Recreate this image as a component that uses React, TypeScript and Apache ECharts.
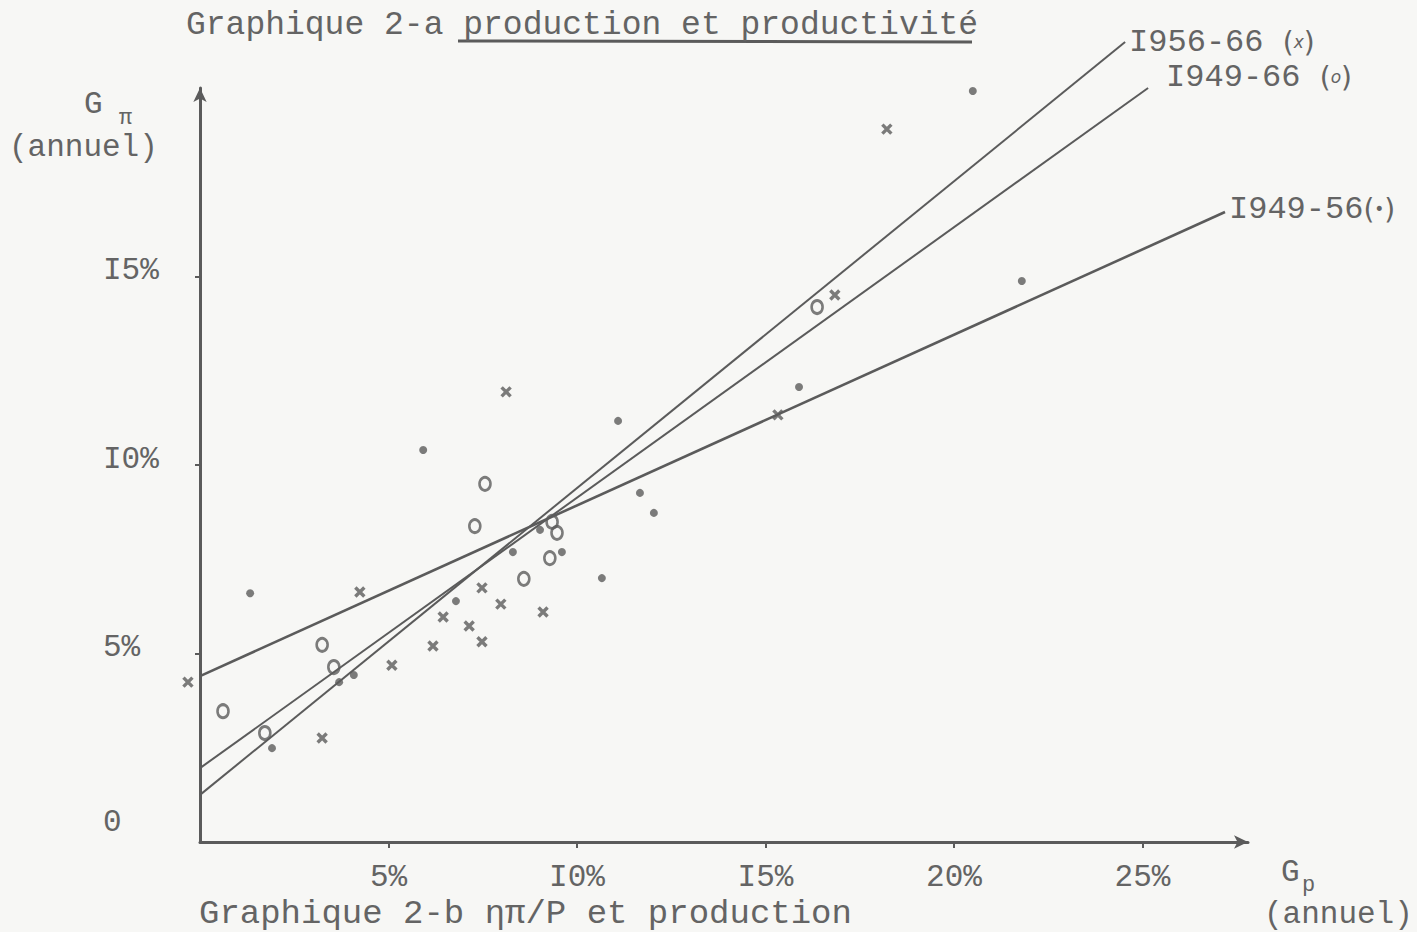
import React, { useEffect, useRef } from 'react';
import * as echarts from 'echarts';

const FONT = '"Liberation Mono", "DejaVu Sans Mono", monospace';
const INK = '#5b5b5b';
const TEXT = '#646464';
const PAPER = '#f7f7f5';

// Axis ticks and labels
const xTickValues = [5, 10, 15, 20, 25];
const xTickLabels = ['5%', 'I0%', 'I5%', '20%', '25%'];
const yTickValues = [0, 5, 10, 15];
const yTickLabels = ['0', '5%', 'I0%', 'I5%'];

// Observations: [G_p %, G_pi %]
const dots1949_56 = [
  [1.33, 6.6], [5.92, 10.4], [11.09, 11.17], [20.5, 19.92], [21.8, 14.88],
  [15.89, 12.07], [11.67, 9.26], [12.04, 8.73], [10.66, 7.0], [9.6, 7.69],
  [9.02, 8.28], [8.3, 7.69], [6.79, 6.39], [3.69, 4.24], [4.08, 4.43], [1.91, 2.49],
];
const circles1949_66 = [
  [0.61, 3.47], [1.72, 2.89], [3.24, 5.23], [3.55, 4.64], [7.29, 8.38],
  [7.56, 9.5], [8.59, 6.98], [9.28, 7.53], [9.47, 8.2], [9.34, 8.49], [16.37, 14.19],
];
const crosses1956_66 = [
  [-0.32, 4.24], [4.24, 6.63], [3.24, 2.76], [5.09, 4.69], [6.18, 5.2],
  [6.45, 5.97], [7.14, 5.73], [7.48, 5.31], [7.48, 6.74], [7.98, 6.31],
  [9.1, 6.1], [8.12, 11.94], [18.22, 18.91], [16.84, 14.51], [15.33, 11.33],
];

// Fitted lines (start, end)
const line1956_66 = [[0, 1.25], [24.54, 21.22]];
const line1949_66 = [[0, 1.96], [25.15, 20.0]];
const line1949_56 = [[0, 4.4], [27.19, 16.71]];

const seriesNames = ['I956-66', 'I949-66', 'I949-56'];
const seriesGaps = [' ', ' ', ''];
const seriesMarks = ['x', 'o', '•'];

const labelRich = {
  a: { fontFamily: FONT, fontSize: 32, color: TEXT },
  p: { fontFamily: '"DejaVu Sans", sans-serif', fontSize: 28, color: TEXT },
  m: { fontFamily: '"DejaVu Sans", sans-serif', fontSize: 17, fontStyle: 'italic', color: TEXT },
};

export default function App() {
  const ref = useRef<HTMLDivElement>(null);
  useEffect(() => {
    const chart = echarts.init(ref.current!, null, { renderer: 'svg' });
    const endLabel = (i: number, offset: number[]) => ({
      show: true,
      formatter: () => `{a|${seriesNames[i]}${seriesGaps[i]}}{p|(}{m|${seriesMarks[i]}}{p|)}`,
      rich: labelRich,
      offset,
      distance: 4,
    });
    chart.setOption({
      animation: false,
      backgroundColor: PAPER,
      title: {
        text: 'Graphique 2-a production et productivité',
        left: 181,
        top: 4,
        textStyle: { fontFamily: FONT, fontSize: 33, fontWeight: 'normal', color: TEXT },
      },
      grid: { left: 200, top: 88, right: 169, bottom: 90 },
      xAxis: {
        type: 'value',
        min: 0,
        max: 27.8,
        interval: 5,
        splitLine: { show: false },
        axisLine: {
          show: true,
          symbol: ['none', 'arrow'],
          symbolSize: [10, 14],
          lineStyle: { color: INK, width: 3 },
        },
        axisTick: { show: true, customValues: xTickValues, length: 6, lineStyle: { color: INK, width: 2 } },
        axisLabel: {
          customValues: xTickValues,
          formatter: (v: number) => xTickLabels[xTickValues.indexOf(v)] ?? '',
          fontFamily: FONT,
          fontSize: 31,
          color: TEXT,
          margin: 20,
        },
      },
      yAxis: {
        type: 'value',
        min: 0,
        max: 20,
        interval: 5,
        splitLine: { show: false },
        axisLine: {
          show: true,
          symbol: ['none', 'arrow'],
          symbolSize: [10, 14],
          lineStyle: { color: INK, width: 3 },
        },
        axisTick: { show: true, customValues: [5, 10, 15], length: 5, lineStyle: { color: INK, width: 2 } },
        axisLabel: {
          customValues: yTickValues,
          formatter: (v: number) => {
            const t = yTickLabels[yTickValues.indexOf(v)] ?? '';
            return v === 0 ? `{z|${t}}` : `{n|${t}}`;
          },
          rich: {
            z: { fontFamily: FONT, fontSize: 31, color: TEXT, padding: [0, 0, 40, 0] },
            n: { fontFamily: FONT, fontSize: 31, color: TEXT, padding: [0, 0, 12, 0] },
          },
          align: 'left',
          margin: 97,
          fontFamily: FONT,
          fontSize: 31,
          color: TEXT,
        },
      },
      series: [
        {
          type: 'line', name: seriesNames[0], data: line1956_66, symbol: 'none', clip: false,
          lineStyle: { color: INK, width: 2 }, endLabel: endLabel(0, [0, 0]),
        },
        {
          type: 'line', name: seriesNames[1], data: line1949_66, symbol: 'none', clip: false,
          lineStyle: { color: INK, width: 2 }, endLabel: endLabel(1, [14, -11]),
        },
        {
          type: 'line', name: seriesNames[2], data: line1949_56, symbol: 'none', clip: false,
          lineStyle: { color: INK, width: 2.6 }, endLabel: endLabel(2, [0, -3]),
        },
        {
          type: 'scatter', name: 'dots', data: dots1949_56, clip: false,
          symbol: 'circle', symbolSize: 8, itemStyle: { color: INK },
        },
        {
          type: 'scatter', name: 'circles', data: circles1949_66, clip: false,
          symbol: 'circle', symbolSize: [11, 13],
          itemStyle: { color: 'rgba(0,0,0,0)', borderColor: INK, borderWidth: 2.8 },
        },
        {
          type: 'scatter', name: 'crosses', data: crosses1956_66, clip: false,
          symbol: 'path://M0 0L10 10M10 0L0 10', symbolSize: 9,
          itemStyle: { color: 'rgba(0,0,0,0)', borderColor: INK, borderWidth: 3.4 },
        },
      ],
      graphic: [
        { type: 'line', shape: { x1: 458, y1: 41, x2: 972, y2: 42 }, style: { stroke: INK, lineWidth: 3 } },
        { type: 'text', style: { text: 'G', x: 84, y: 104, fontFamily: FONT, fontSize: 31, fill: TEXT, verticalAlign: 'middle' } },
        { type: 'text', style: { text: 'π', x: 119, y: 118, fontFamily: FONT, fontSize: 22, fill: TEXT, verticalAlign: 'middle' } },
        { type: 'text', style: { text: '(annuel)', x: 9, y: 147, fontFamily: FONT, fontSize: 31, fill: TEXT, verticalAlign: 'middle' } },
        { type: 'text', style: { text: 'G', x: 1281, y: 872, fontFamily: FONT, fontSize: 31, fill: TEXT, verticalAlign: 'middle' } },
        { type: 'text', style: { text: 'p', x: 1302, y: 885, fontFamily: FONT, fontSize: 22, fill: TEXT, verticalAlign: 'middle' } },
        { type: 'text', style: { text: '(annuel)', x: 1264, y: 914, fontFamily: FONT, fontSize: 31, fill: TEXT, verticalAlign: 'middle' } },
        { type: 'text', style: { text: 'Graphique 2-b ηπ/P et production', x: 199, y: 914, fontFamily: FONT, fontSize: 34, fill: TEXT, verticalAlign: 'middle' } },
      ],
    });
    return () => chart.dispose();
  }, []);
  return <div ref={ref} style={{ position: 'fixed', left: 0, top: 0, width: 1417, height: 932 }} />;
}
